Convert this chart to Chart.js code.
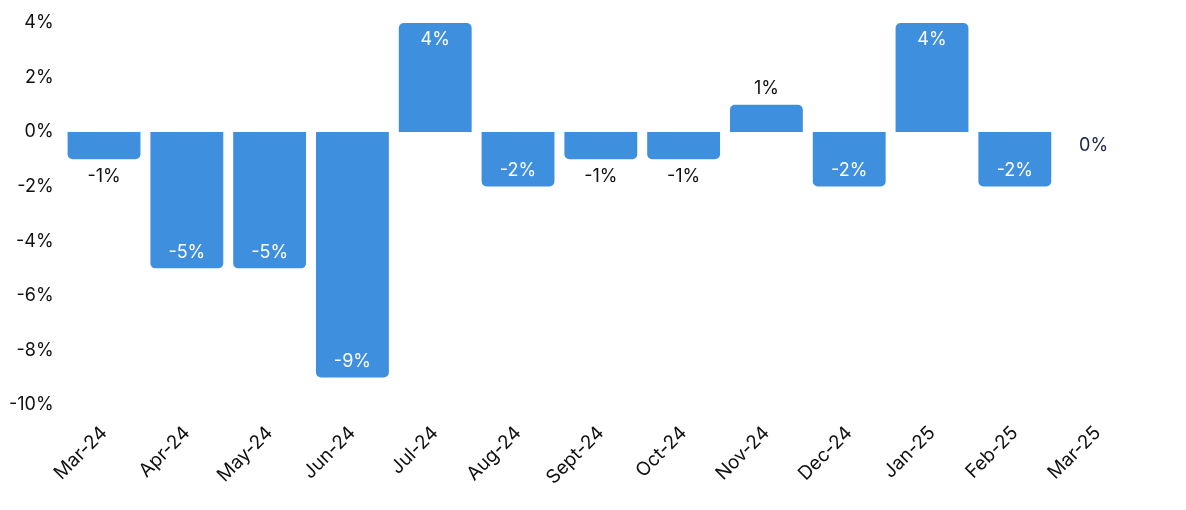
<!DOCTYPE html>
<html lang="en">
<head>
    <meta charset="UTF-8">
    <title>Monthly change</title>
    <script src="https://cdn.jsdelivr.net/npm/chart.js"></script>
    <style>
        html, body { margin: 0; padding: 0; background: #fff; }
        #wrap { width: 1186px; height: 510px; }
    </style>
</head>
<body>
    <div id="wrap"><canvas id="myBarChart"></canvas></div>
    <script>
        const months = ['Mar-24', 'Apr-24', 'May-24', 'Jun-24', 'Jul-24', 'Aug-24', 'Sept-24',
                        'Oct-24', 'Nov-24', 'Dec-24', 'Jan-25', 'Feb-25', 'Mar-25'];
        const changePct = [-1, -5, -5, -9, 4, -2, -1, -1, 1, -2, 4, -2, 0];

        const FONT = 'Inter, "Noto Sans", sans-serif';

        // simple value labels, inside the bar end when there is room, outside otherwise
        const valueLabels = {
            id: 'valueLabels',
            afterDatasetsDraw(chart) {
                const c = chart.ctx;
                const meta = chart.getDatasetMeta(0);
                const zeroY = chart.scales.y.getPixelForValue(0);
                c.save();
                c.font = '18px ' + FONT;
                c.textAlign = 'center';
                c.textBaseline = 'middle';
                meta.data.forEach((bar, i) => {
                    const v = changePct[i];
                    let y, color;
                    if (v === 0) {
                        y = zeroY + 14;
                        color = '#1c2147';
                    } else if (Math.abs(v) >= 2) {
                        y = v > 0 ? bar.y + 17 : bar.y - 16;
                        color = '#ffffff';
                    } else {
                        y = v > 0 ? bar.y - 16 : bar.y + 17;
                        color = '#111111';
                    }
                    c.fillStyle = color;
                    c.fillText(v + '%', bar.x - (v === 0 ? 4 : 0), y);
                });
                c.restore();
            }
        };

        new Chart(document.getElementById('myBarChart'), {
            type: 'bar',
            data: {
                labels: months,
                datasets: [{
                    data: changePct,
                    backgroundColor: '#3f8fdf',
                    borderRadius: 5,
                    barPercentage: 0.88,
                    categoryPercentage: 1
                }]
            },
            options: {
                responsive: true,
                maintainAspectRatio: false,
                animation: false,
                layout: { padding: { top: 23, right: 47, bottom: 4, left: 0 } },
                plugins: {
                    legend: { display: false },
                    tooltip: { enabled: false }
                },
                scales: {
                    x: {
                        grid: { display: false, drawTicks: false },
                        border: { display: false },
                        ticks: {
                            color: '#111',
                            padding: 17,
                            font: { family: FONT, size: 19 },
                            maxRotation: 45,
                            minRotation: 45
                        }
                    },
                    y: {
                        min: -10,
                        max: 4,
                        grid: { display: false, drawTicks: false },
                        border: { display: false },
                        ticks: {
                            stepSize: 2,
                            color: '#111',
                            padding: 9,
                            font: { family: FONT, size: 18 },
                            callback: v => v + '%'
                        }
                    }
                }
            },
            plugins: [valueLabels]
        });
    </script>
</body>
</html>
